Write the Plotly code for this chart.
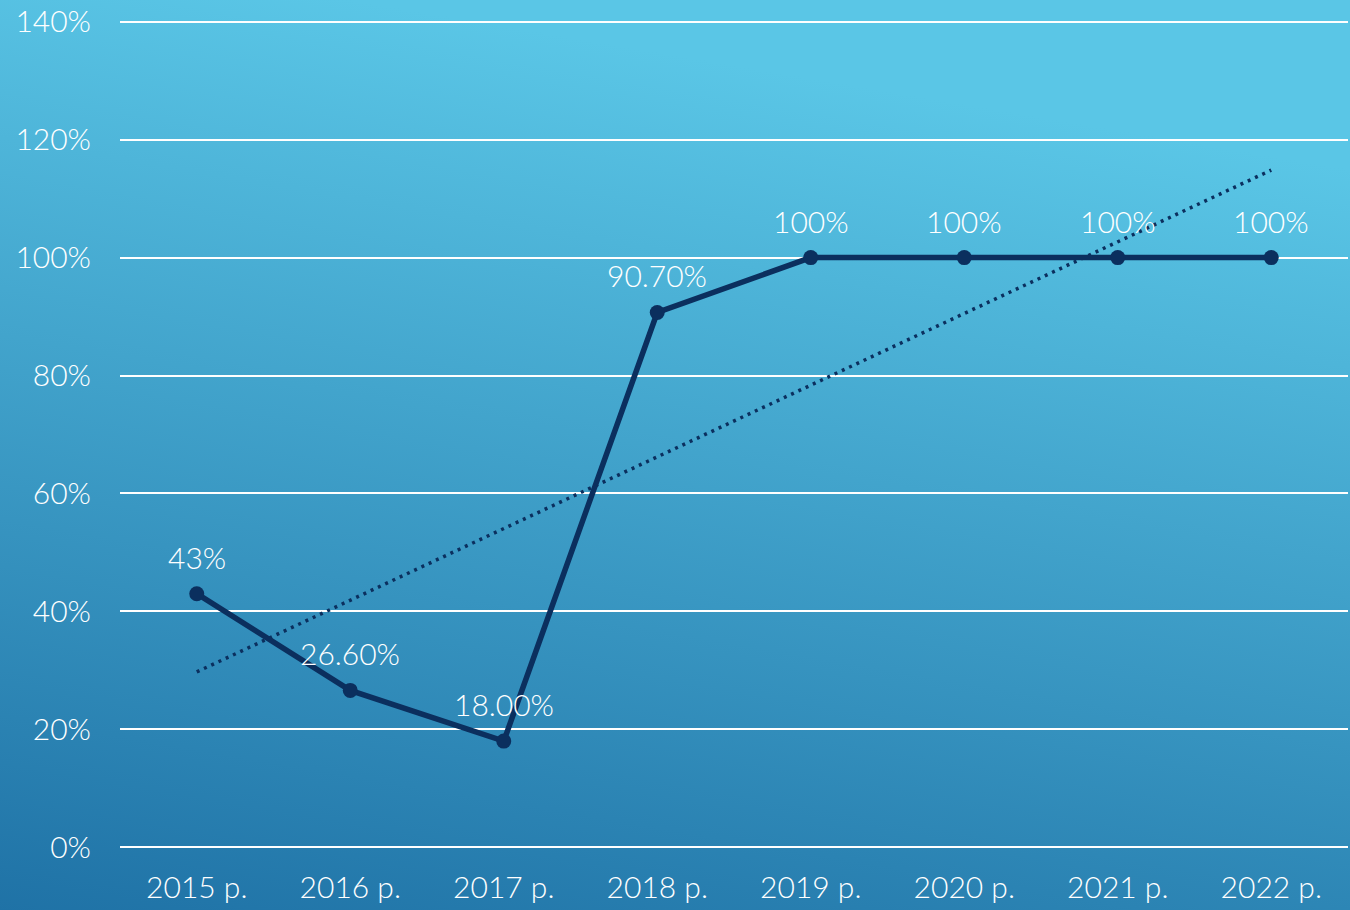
import numpy as np
import plotly.graph_objs as go

years = ['2015 р.', '2016 р.', '2017 р.', '2018 р.', '2019 р.', '2020 р.', '2021 р.', '2022 р.']
values = [43, 26.6, 18.0, 90.7, 100, 100, 100, 100]
labels = ['43%', '26.60%', '18.00%', '90.70%', '100%', '100%', '100%', '100%']
y_ticks = [0, 20, 40, 60, 80, 100, 120, 140]
y_tick_text = ['0%', '20%', '40%', '60%', '80%', '100%', '120%', '140%']

# linear trendline through the series
idx = np.arange(len(values))
slope, intercept = np.polyfit(idx, values, 1)
trend = slope * idx + intercept

navy = '#0B2F5E'
font_name = 'Lato'

# gradient background as an inline svg
svg = ("<svg xmlns='http://www.w3.org/2000/svg' width='1350' height='910' preserveAspectRatio='none'>"
       "<defs><linearGradient id='g' x1='0' y1='1' x2='0.25' y2='0'>"
       "<stop offset='0' stop-color='%231F72A6'/>"
       "<stop offset='1' stop-color='%235AC6E6'/>"
       "</linearGradient></defs>"
       "<rect width='1350' height='910' fill='url(%23g)'/></svg>")
bg_src = 'data:image/svg+xml;utf8,' + svg

data = [
    go.Scatter(x=years, y=trend,
               mode='lines',
               line=dict(color=navy, width=3.5, dash='3px,5px'),
               hoverinfo='skip'),
    go.Scatter(x=years, y=values,
               mode='lines+markers',
               line=dict(color=navy, width=5.5),
               marker=dict(color=navy, size=15))
]

# data labels above each point
annotations = [dict(x=yr, y=v, text=t, showarrow=False, yshift=37,
                    font=dict(color='white', size=30, family=font_name, weight=300))
               for yr, v, t in zip(years, values, labels)]

plot_h = 825
y_lo, y_hi = -0.3, 140.3
top = 22 - 0.3 / 140 * plot_h
layout = go.Layout(
    width=1350, height=910,
    margin=dict(l=120, r=2, t=round(top), b=round(910 - 847 - 0.3 / 140 * plot_h)),
    showlegend=False,
    paper_bgcolor='#3A9CCB',
    plot_bgcolor='rgba(0,0,0,0)',
    font=dict(family=font_name, color='white', size=30, weight=300),
    annotations=annotations,
    xaxis=dict(range=[-0.5, 7.5], showgrid=False, zeroline=False,
               showline=False, ticks='', ticklabelstandoff=18,
               tickfont=dict(size=30, weight=300)),
    yaxis=dict(range=[y_lo, y_hi], tickvals=y_ticks, ticktext=y_tick_text,
               showgrid=True, gridcolor='white', gridwidth=2,
               zeroline=False, showline=False, ticks='',
               ticklabelstandoff=28, tickfont=dict(size=30, weight=300)),
    images=[dict(source=bg_src, xref='paper', yref='paper',
                 x=-120 / 1228, y=1 + 22 / 825, sizex=1350 / 1228, sizey=910 / 825,
                 xanchor='left', yanchor='top', sizing='stretch', layer='below')]
)

fig = go.Figure(data=data, layout=layout)
fig.write_html('out.html', config={'displayModeBar': False},
               post_script="document.body.style.margin='0';")
